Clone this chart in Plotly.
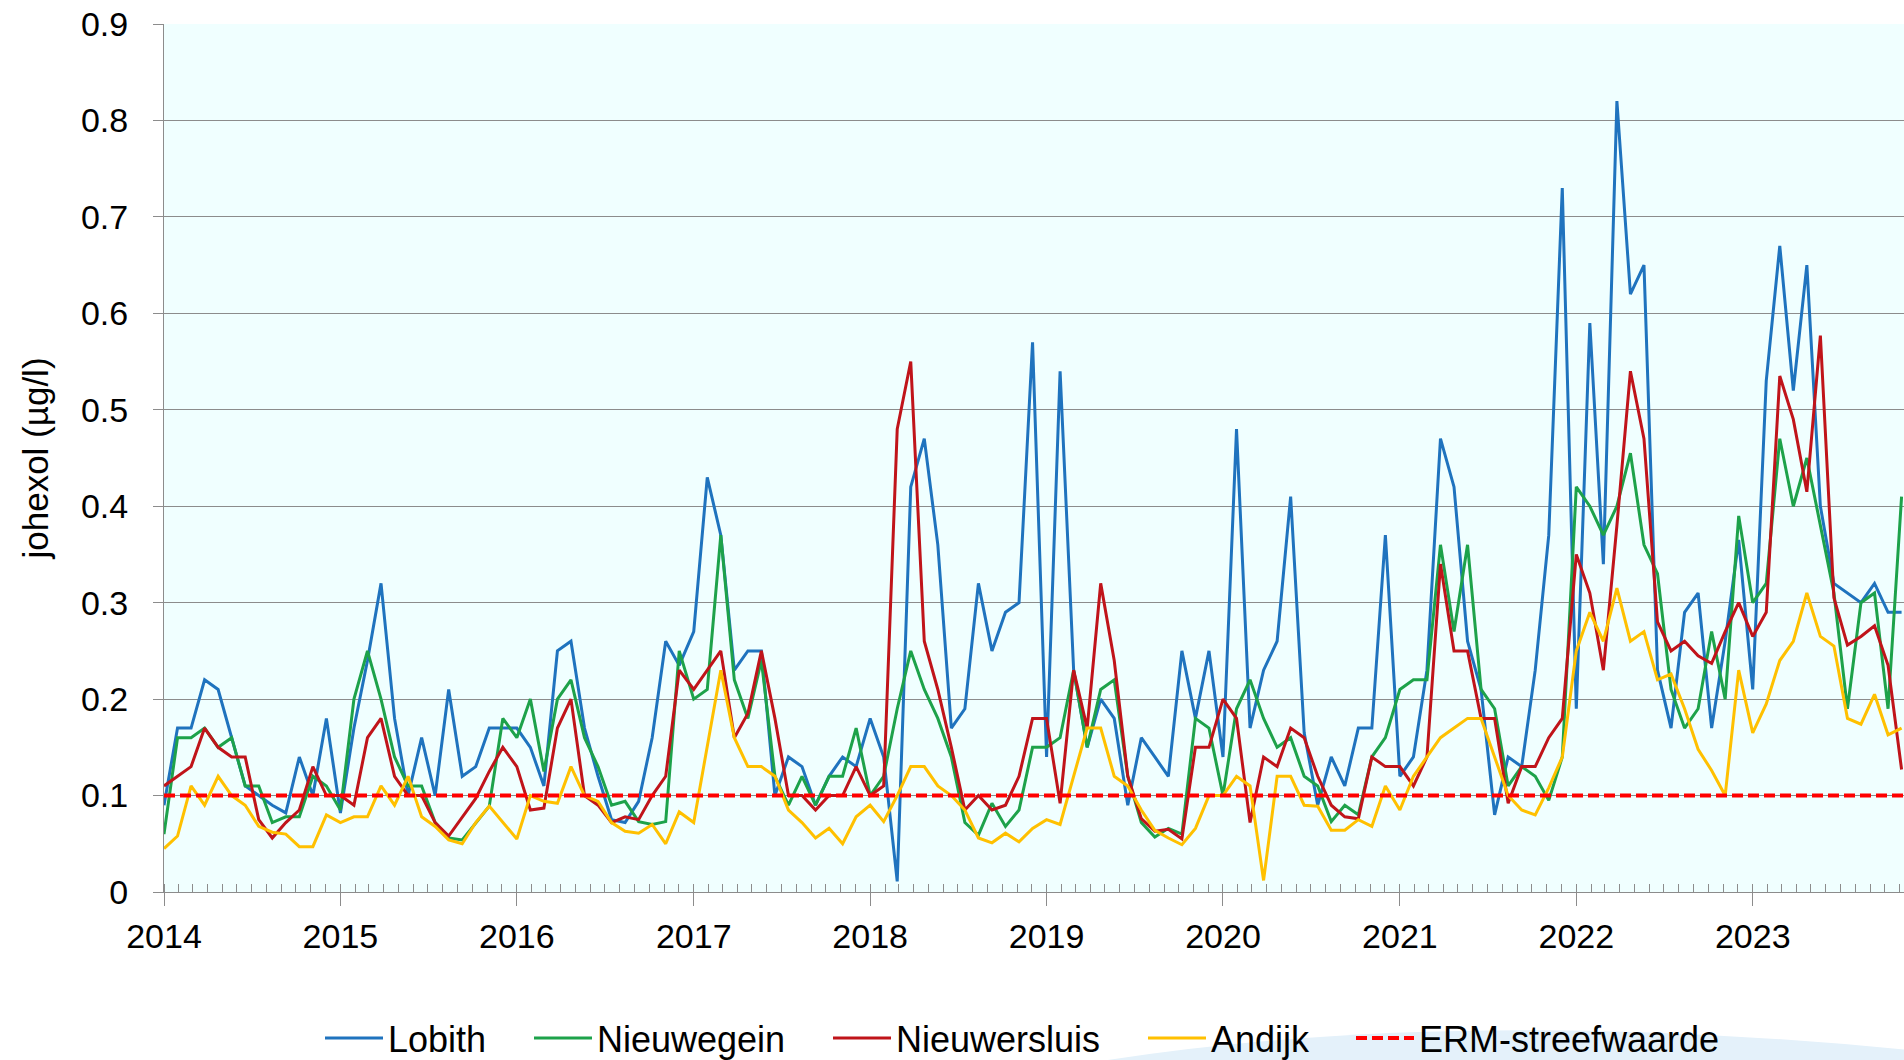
import pandas as pd
import plotly.graph_objects as go

# ---------------- data (4-weekly samples, 13 per year; 2023 visible up to early Nov) -------------
years = [2014, 2015, 2016, 2017, 2018, 2019, 2020, 2021, 2022, 2023]
samples_per_year = [13, 13, 13, 13, 13, 13, 13, 13, 13, 12]
sample_interval_days = 28

lobith = [
    0.09, 0.17, 0.17, 0.22, 0.21, 0.16, 0.11, 0.10, 0.09, 0.082, 0.14, 0.10, 0.18,      # 2014
    0.082, 0.17, 0.24, 0.32, 0.18, 0.10, 0.16, 0.10, 0.21, 0.12, 0.13, 0.17, 0.17,      # 2015
    0.17, 0.15, 0.11, 0.25, 0.26, 0.17, 0.12, 0.075, 0.072, 0.094, 0.16, 0.26, 0.235,   # 2016
    0.27, 0.43, 0.37, 0.23, 0.25, 0.25, 0.10, 0.14, 0.13, 0.09, 0.12, 0.14, 0.13,       # 2017
    0.18, 0.14, 0.011, 0.42, 0.47, 0.36, 0.17, 0.19, 0.32, 0.25, 0.29, 0.30, 0.57,      # 2018
    0.14, 0.54, 0.23, 0.15, 0.20, 0.18, 0.09, 0.16, 0.14, 0.12, 0.25, 0.18, 0.25,       # 2019
    0.14, 0.48, 0.17, 0.23, 0.26, 0.41, 0.165, 0.09, 0.14, 0.11, 0.17, 0.17, 0.37,      # 2020
    0.12, 0.14, 0.23, 0.47, 0.42, 0.26, 0.21, 0.08, 0.14, 0.13, 0.23, 0.37, 0.73,       # 2021
    0.19, 0.59, 0.34, 0.82, 0.62, 0.65, 0.23, 0.17, 0.29, 0.31, 0.17, 0.26, 0.365,      # 2022
    0.21, 0.53, 0.67, 0.52, 0.65, 0.40, 0.32, 0.31, 0.30, 0.32, 0.29, 0.29,             # 2023
]
nieuwegein = [
    0.06, 0.16, 0.16, 0.17, 0.15, 0.16, 0.11, 0.11, 0.072, 0.078, 0.078, 0.12, 0.11,    # 2014
    0.085, 0.20, 0.25, 0.20, 0.14, 0.11, 0.11, 0.072, 0.056, 0.054, 0.072, 0.089, 0.18, # 2015
    0.16, 0.20, 0.125, 0.20, 0.22, 0.16, 0.13, 0.09, 0.094, 0.073, 0.07, 0.073, 0.25,   # 2016
    0.20, 0.21, 0.37, 0.22, 0.18, 0.24, 0.12, 0.09, 0.12, 0.09, 0.12, 0.12, 0.17,       # 2017
    0.10, 0.12, 0.19, 0.25, 0.21, 0.18, 0.14, 0.072, 0.059, 0.092, 0.068, 0.085, 0.15,  # 2018
    0.15, 0.16, 0.23, 0.15, 0.21, 0.22, 0.12, 0.072, 0.057, 0.066, 0.06, 0.18, 0.17,    # 2019
    0.10, 0.19, 0.22, 0.18, 0.15, 0.16, 0.12, 0.11, 0.073, 0.09, 0.08, 0.14, 0.16,      # 2020
    0.21, 0.22, 0.22, 0.36, 0.27, 0.36, 0.21, 0.19, 0.11, 0.13, 0.12, 0.095, 0.14,      # 2021
    0.42, 0.40, 0.37, 0.40, 0.455, 0.36, 0.33, 0.21, 0.17, 0.19, 0.27, 0.20, 0.39,      # 2022
    0.30, 0.32, 0.47, 0.40, 0.45, 0.38, 0.31, 0.19, 0.30, 0.31, 0.19, 0.41,             # 2023
]
nieuwersluis = [
    0.11, 0.12, 0.13, 0.17, 0.15, 0.14, 0.14, 0.075, 0.056, 0.072, 0.085, 0.13, 0.10,   # 2014
    0.10, 0.09, 0.16, 0.18, 0.12, 0.10, 0.10, 0.072, 0.058, 0.078, 0.097, 0.125, 0.15,  # 2015
    0.13, 0.085, 0.087, 0.17, 0.20, 0.10, 0.09, 0.072, 0.078, 0.075, 0.10, 0.12, 0.23,  # 2016
    0.21, 0.23, 0.25, 0.16, 0.185, 0.25, 0.18, 0.10, 0.10, 0.085, 0.10, 0.10, 0.13,     # 2017
    0.10, 0.11, 0.48, 0.55, 0.26, 0.21, 0.15, 0.085, 0.10, 0.085, 0.09, 0.12, 0.18,     # 2018
    0.18, 0.092, 0.23, 0.17, 0.32, 0.24, 0.12, 0.076, 0.063, 0.065, 0.055, 0.15, 0.15,  # 2019
    0.20, 0.18, 0.072, 0.14, 0.13, 0.17, 0.16, 0.12, 0.09, 0.078, 0.076, 0.14, 0.13,    # 2020
    0.13, 0.11, 0.14, 0.34, 0.25, 0.25, 0.18, 0.18, 0.092, 0.13, 0.13, 0.16, 0.18,      # 2021
    0.35, 0.31, 0.23, 0.38, 0.54, 0.47, 0.28, 0.25, 0.26, 0.245, 0.237, 0.27, 0.30,     # 2022
    0.265, 0.29, 0.535, 0.49, 0.415, 0.577, 0.305, 0.256, 0.265, 0.276, 0.235, 0.127,   # 2023
]
andijk = [
    0.045, 0.058, 0.11, 0.09, 0.12, 0.10, 0.09, 0.068, 0.062, 0.06, 0.047, 0.047, 0.08, # 2014
    0.072, 0.078, 0.078, 0.11, 0.09, 0.12, 0.078, 0.068, 0.054, 0.05, 0.072, 0.089, 0.072, # 2015
    0.055, 0.10, 0.094, 0.092, 0.13, 0.10, 0.094, 0.072, 0.063, 0.061, 0.07, 0.05, 0.083, # 2016
    0.072, 0.15, 0.23, 0.16, 0.13, 0.13, 0.12, 0.085, 0.072, 0.056, 0.066, 0.05, 0.078, # 2017
    0.09, 0.073, 0.10, 0.13, 0.13, 0.11, 0.10, 0.085, 0.056, 0.051, 0.061, 0.052, 0.066, # 2018
    0.075, 0.07, 0.12, 0.17, 0.17, 0.12, 0.11, 0.085, 0.064, 0.056, 0.049, 0.066, 0.10, # 2019
    0.10, 0.12, 0.11, 0.012, 0.12, 0.12, 0.09, 0.089, 0.064, 0.064, 0.075, 0.068, 0.11, # 2020
    0.085, 0.12, 0.14, 0.16, 0.17, 0.18, 0.18, 0.14, 0.10, 0.085, 0.08, 0.108, 0.14,    # 2021
    0.25, 0.29, 0.26, 0.315, 0.26, 0.27, 0.22, 0.226, 0.19, 0.148, 0.126, 0.10, 0.23,   # 2022
    0.165, 0.195, 0.24, 0.26, 0.31, 0.265, 0.255, 0.18, 0.174, 0.205, 0.163, 0.17,      # 2023
]
erm_streefwaarde = 0.1

x_range = ["2014-01-01", "2023-11-10"]
y_range = [0, 0.9]
y_ticks = [0, 0.1, 0.2, 0.3, 0.4, 0.5, 0.6, 0.7, 0.8, 0.9]
y_ticklabels = ["0", "0.1", "0.2", "0.3", "0.4", "0.5", "0.6", "0.7", "0.8", "0.9"]

# ---------------- sample dates ----------------
dates = []
for yr, n in zip(years, samples_per_year):
    start = pd.Timestamp(f"{yr}-01-01")
    dates += [start + pd.Timedelta(days=sample_interval_days * k) for k in range(n)]

FONT = "Liberation Sans, Arial, sans-serif"
W, H, L, T, B = 1904, 1060, 164, 24, 892


def px(xf):
    return (xf - L) / (W - L)


def py(yf):
    return (B - yf) / (B - T)


series = [
    ("Lobith", lobith, "#1F73BE", "legend", 325),
    ("Nieuwegein", nieuwegein, "#1DA24A", "legend2", 534),
    ("Nieuwersluis", nieuwersluis, "#C0141A", "legend3", 833),
    ("Andijk", andijk, "#FFC000", "legend4", 1148),
]
erm_legend = ("legend5", 1356)

fig = go.Figure()
for name, vals, col, lg, _ in series:
    fig.add_trace(go.Scatter(x=dates, y=vals, mode="lines", name=name, legend=lg,
                             line=dict(color=col, width=3)))
fig.add_trace(go.Scatter(x=x_range, y=[erm_streefwaarde, erm_streefwaarde], mode="lines",
                         name="ERM-streefwaarde", legend=erm_legend[0],
                         line=dict(color="#FF0000", width=4, dash="11px,5px")))

# faint watermark swoosh at the bottom (paper area)
fig.add_shape(type="path", xref="paper", yref="paper", layer="below",
              path=f"M {px(1095)},{py(1062)} Q {px(1450)},{py(1005)} {px(1910)},{py(1050)} "
                   f"L {px(1910)},{py(1062)} Z",
              fillcolor="#E4F1FA", line=dict(width=0))

LEG_OFFSET = 5
legend_common = dict(orientation="h", yanchor="middle", y=py(1038), xanchor="left",
                     font=dict(size=36, family=FONT), bgcolor="rgba(0,0,0,0)",
                     itemwidth=58, borderwidth=0)
legends = {}
for name, vals, col, lg, xstart in series:
    legends[lg] = dict(legend_common, x=px(xstart - LEG_OFFSET))
legends[erm_legend[0]] = dict(legend_common, x=px(erm_legend[1] - LEG_OFFSET))

fig.update_layout(
    width=W, height=H,
    margin=dict(l=L, r=0, t=T, b=H - B, autoexpand=False),
    paper_bgcolor="white",
    plot_bgcolor="#F0FFFF",
    font=dict(family=FONT, color="black", size=34),
    showlegend=True,
    **legends,
)
fig.update_xaxes(
    type="date", range=x_range, showgrid=False, zeroline=False,
    showline=True, linecolor="#8C8C8C", linewidth=1,
    ticks="outside", ticklen=13, tickcolor="#8C8C8C", tickwidth=1,
    dtick="M12", tickformat="%Y", tick0="2014-01-01",
    tickfont=dict(size=34, family=FONT), ticklabelstandoff=1,
    minor=dict(dtick="M1", ticks="inside", ticklen=8, tickcolor="#8C8C8C", tickwidth=1, showgrid=False),
)
fig.update_yaxes(
    range=y_range, tickvals=y_ticks, ticktext=y_ticklabels,
    showgrid=True, gridcolor="#8C8C8C", gridwidth=1, zeroline=False,
    showline=True, linecolor="#8C8C8C", linewidth=1,
    ticks="outside", ticklen=10, tickcolor="#8C8C8C", tickwidth=1,
    tickfont=dict(size=34, family=FONT), ticklabelstandoff=18,
    title=dict(text="johexol (µg/l)", font=dict(size=35, family=FONT), standoff=21),
)

fig.write_html("out.html", config={"displayModeBar": False},
               post_script="document.body.style.margin='0';")
